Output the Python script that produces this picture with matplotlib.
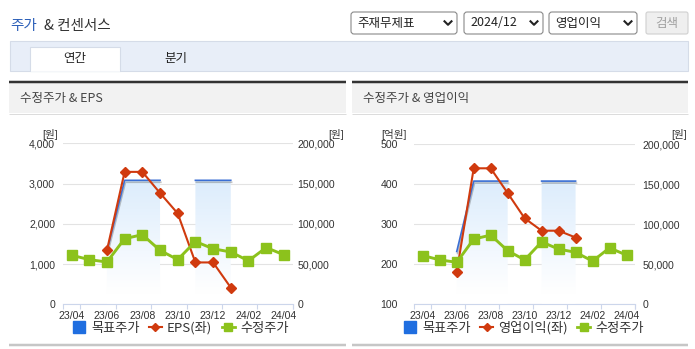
import numpy as np
import matplotlib.pyplot as plt
import matplotlib.patheffects as pe
from matplotlib.patches import Rectangle, FancyBboxPatch
from matplotlib.lines import Line2D
from matplotlib.path import Path

plt.rcParams['font.family'] = ['Noto Sans CJK KR', 'DejaVu Sans']

W, H = 695, 349

# monthly data, 23/04 .. 24/04
months = ['23/04', '23/05', '23/06', '23/07', '23/08', '23/09', '23/10',
          '23/11', '23/12', '24/01', '24/02', '24/03', '24/04']
price = [61000, 55500, 52500, 81500, 86500, 67000, 55500,
         78000, 69000, 65000, 54000, 70500, 61500]
target = [np.nan, np.nan, 66000, 154000, 154000, 154000, np.nan,
          154000, 154000, 154000, np.nan, np.nan, np.nan]
eps = [np.nan, np.nan, 1340, 3290, 3290, 2765, 2258,
       1040, 1040, 415, np.nan, np.nan, np.nan]
op_income = [np.nan, np.nan, 181, 440, 440, 378, 315,
             284, 284, 267, np.nan, np.nan, np.nan]

eps_ticks = [0, 1000, 2000, 3000, 4000]
op_ticks = [100, 200, 300, 400, 500]
price_ticks = [0, 50000, 100000, 150000, 200000]

RED = '#d03a0e'
GREEN = '#8cc21c'
BLUE = '#3b6fd4'
TXT = '#333333'
tick_font = dict(family=['Liberation Sans Narrow', 'Liberation Sans', 'Noto Sans CJK KR'],
                 fontsize=7.6, color=TXT)

fig = plt.figure(figsize=(W / 100, H / 100), dpi=100)

# page furniture in pixel coordinates
bg = fig.add_axes([0, 0, 1, 1])
bg.set_xlim(0, W)
bg.set_ylim(H, 0)
bg.axis('off')


def box(x0, y0, x1, y1, **kw):
    bg.add_patch(Rectangle((x0, y0), x1 - x0, y1 - y0, **kw))


def hline(x0, x1, y, color, lw):
    bg.plot([x0, x1], [y, y], color=color, lw=lw * 0.72, solid_capstyle='butt')


bg.text(10, 26, '주가', color='#2c5fb8', fontsize=10.5, va='center')
bg.text(43.5, 26, '& 컨센서스', color=TXT, fontsize=10.5, va='center')

for x0, x1, label in [(351, 457, '주재무제표'), (464, 543, '2024/12'), (549, 637, '영업이익')]:
    bg.add_patch(FancyBboxPatch((x0, 12), x1 - x0, 22, boxstyle='round,pad=0,rounding_size=3',
                                fc='white', ec='#8a8a8a', lw=0.8))
    bg.text(x0 + 6.5, 23, label, fontsize=9, va='center', color='#222222')
    bg.plot([x1 - 12.5, x1 - 9, x1 - 5.5], [21.3, 24.8, 21.3], color='#222222', lw=1.5)
bg.add_patch(FancyBboxPatch((646, 12), 42, 22, boxstyle='round,pad=0,rounding_size=2',
                            fc='#efefef', ec='#d0d0d0', lw=0.8))
bg.text(667, 23, '검색', fontsize=9, va='center', ha='center', color='#a0a0a0')

# tab bar
box(9.5, 41, 688, 70.5, fc='#e8eef8', ec='#d5dce8', lw=0.8)
box(30, 46.5, 120, 71, fc='white', ec='#d5dce8', lw=0.8)
hline(30.5, 119.5, 70.5, 'white', 1.5)
bg.text(75, 58.5, '연간', fontsize=9, va='center', ha='center', color='#222222')
bg.text(176, 58.5, '분기', fontsize=9, va='center', ha='center', color='#222222')

# panel frames
for px0, px1, title in [(9, 345.5, '수정주가 & EPS'), (352, 688, '수정주가 & 영업이익')]:
    box(px0, 82, px1, 113, fc='#f2f2f2', ec='none')
    hline(px0, px1, 82, '#333333', 2.5)
    hline(px0, px1, 113.5, '#dcdcdc', 1)
    hline(px0, px1, 345, '#c6c6c6', 2.5)
    bg.text(px0 + 11, 98.5, title, fontsize=9, va='center', color='#444444')


def draw_chart(rect, left_vals, left_ticks, left_name, pads, units, legend_cx):
    x0, y0, x1, y1 = rect
    ax = fig.add_axes([x0 / W, 1 - y1 / H, (x1 - x0) / W, (y1 - y0) / H])
    ax2 = ax.twinx()
    ax2.set_zorder(1)
    ax.set_zorder(2)
    ax.patch.set_visible(False)
    pos = np.arange(len(months))

    # target price area with a blue gradient fading to white
    t = np.array(target, float)
    band = ax2.fill_between(pos, 0, t, color='none', lw=0)
    clip = Path.make_compound_path(*band.get_paths())
    top = np.array([0.87, 0.93, 0.99])
    fade = np.clip(np.linspace(1.05, -0.1, 256), 0, 1)[:, None, None]   # first row at the top
    rgb = 1 - (1 - top) * fade
    img = ax2.imshow(np.repeat(rgb, 2, axis=1), extent=(-0.5, len(months) - 0.5, 0, np.nanmax(t)),
                     origin='upper', aspect='auto', zorder=1)
    img.set_clip_path(clip, transform=ax2.transData)
    ax2.plot(pos, t, color=BLUE, lw=1.2, zorder=3,
             path_effects=[pe.SimpleLineShadow(offset=(0.6, -1.4), shadow_color='#555555', alpha=0.35),
                           pe.Normal()])

    ax.plot(pos, left_vals, color=RED, lw=1.5, marker='D', ms=5, zorder=3)
    ax.plot(pos, price, color=GREEN, lw=2.1, marker='s', ms=7, zorder=4, transform=ax2.transData)

    ax.set_xlim(-0.5, len(months) - 0.5)
    ax.set_ylim(left_ticks[0], left_ticks[-1])
    ax2.set_ylim(price_ticks[0], price_ticks[-1])

    ax2.set_yticks(price_ticks)
    ax2.set_yticklabels([f'{v:,}' for v in price_ticks], **tick_font)
    ax2.grid(axis='y', color='#e3e3e3', lw=0.8)
    ax2.set_axisbelow(True)
    ax2.tick_params(axis='y', length=0, pad=pads[1])

    ax.set_yticks(left_ticks)
    ax.set_yticklabels([f'{v:,}' for v in left_ticks], **tick_font)
    ax.tick_params(axis='y', length=0, pad=pads[0])

    ax.set_xticks([-0.5] + list(np.arange(0.5, len(months), 2)) + [len(months) - 0.5])
    ax.set_xticklabels([])
    ax.set_xticks(pos[::2], minor=True)
    ax.set_xticklabels(months[::2], minor=True, **tick_font)
    ax.tick_params(axis='x', which='major', length=3.5, width=0.8, color='#ccd6eb')
    ax.tick_params(axis='x', which='minor', length=0, pad=4.5)

    for s in ax.spines.values():
        s.set_visible(False)
    for s in ax2.spines.values():
        s.set_visible(False)
    ax.spines['bottom'].set_visible(True)
    ax.spines['bottom'].set_color('#ccd6eb')
    ax.spines['bottom'].set_linewidth(0.8)

    for ux, label in units:
        bg.text(ux, 134, label, ha='center', va='center', **tick_font)

    handles = [Line2D([], [], ls='none', marker='s', ms=8, color='#1f6ee0'),
               Line2D([], [], color=RED, lw=1.5, marker='D', ms=4),
               Line2D([], [], color=GREEN, lw=2, marker='s', ms=5.5)]
    fig.legend(handles, ['목표주가', left_name, '수정주가'], loc='center',
               bbox_to_anchor=(legend_cx / W, 1 - 328 / H), ncol=3, frameon=False,
               fontsize=9.5, handlelength=1.0, handletextpad=0.4, columnspacing=0.7,
               labelcolor=TXT, borderpad=0, borderaxespad=0)


draw_chart((62.7, 143.3, 292.7, 304.3), eps, eps_ticks, 'EPS(좌)', (5.5, 3.6),
           [(50, '[원]'), (336, '[원]')], 180.5)
draw_chart((414.3, 144.3, 635, 304.3), op_income, op_ticks, '영업이익(좌)', (12, 5.5),
           [(393.5, '[억원]'), (679, '[원]')], 524)

fig.savefig('out.png', dpi=100)
